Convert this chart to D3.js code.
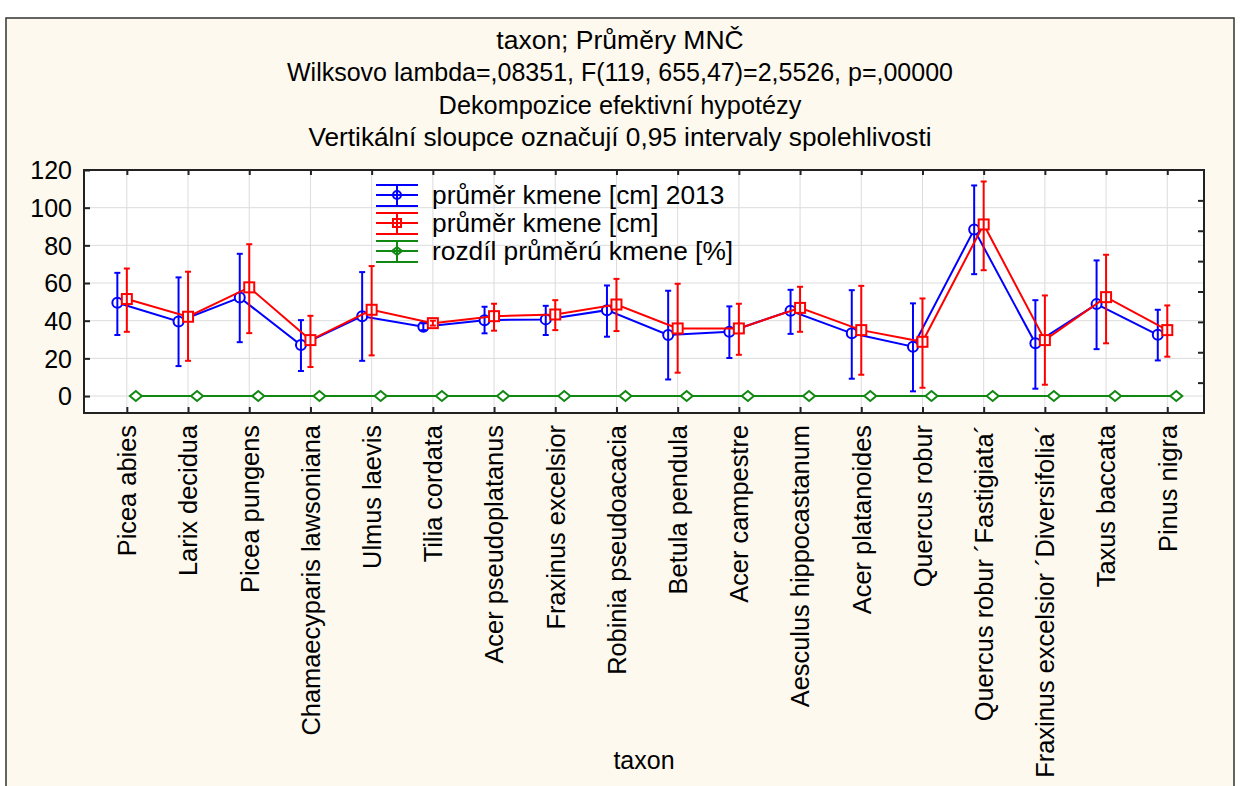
<!DOCTYPE html>
<html lang="cs">
<head>
<meta charset="UTF-8">
<title>taxon; Průměry MNČ</title>
<script src="https://cdnjs.cloudflare.com/ajax/libs/d3/7.8.5/d3.min.js"></script>
<style>
    html, body {
        margin: 0;
        padding: 0;
        background: #ffffff;
    }
    svg text {
        font-family: "Liberation Sans", Arial, sans-serif;
        fill: #000;
    }
</style>
</head>
<body>
<div id="chart"></div>
<script>
    const taxa = [
        "Picea abies", "Larix decidua", "Picea pungens", "Chamaecyparis lawsoniana",
        "Ulmus laevis", "Tilia cordata", "Acer pseudoplatanus", "Fraxinus excelsior",
        "Robinia pseudoacacia", "Betula pendula", "Acer campestre", "Aesculus hippocastanum",
        "Acer platanoides", "Quercus robur", "Quercus robur \u00b4Fastigiata\u00b4",
        "Fraxinus excelsior \u00b4Diversifolia\u00b4", "Taxus baccata", "Pinus nigra"
    ];

    // průměr kmene [cm] 2013
    const mean2013 = [49.5, 39.6, 52.3, 27.1, 42.4, 36.8, 40.3, 40.7, 45.6, 32.4, 34.1, 45.3, 33.3, 26.2, 88.4, 28.0, 48.8, 32.5];
    const low2013  = [32.4, 15.9, 28.6, 13.3, 18.7, 35.0, 33.3, 32.4, 31.5,  8.8, 20.2, 33.0,  9.2,  2.5, 64.7,  3.9, 24.9, 18.9];
    const high2013 = [65.4, 63.0, 75.5, 40.3, 65.8, 38.6, 47.4, 47.9, 58.7, 55.9, 47.6, 56.4, 56.2, 49.2, 111.8, 50.9, 72.0, 45.8];

    // průměr kmene [cm]
    const meanNow = [51.5, 42.1, 57.7, 29.7, 45.8, 38.7, 42.4, 43.3, 48.6, 35.9, 35.9, 46.8, 35.0, 28.8, 91.1, 29.7, 52.5, 35.0];
    const lowNow  = [34.1, 18.7, 33.4, 15.4, 21.6, 37.4, 34.7, 35.0, 34.5, 12.4, 21.9, 34.1, 11.3,  4.4, 66.8,  6.0, 28.0, 20.9];
    const highNow = [67.7, 66.0, 80.6, 42.6, 69.0, 40.0, 49.0, 50.9, 62.2, 59.6, 49.0, 58.0, 58.5, 51.8, 113.9, 53.4, 75.0, 48.1];

    // rozdíl průměrů kmene [%]
    const meanDiff = [0, 0, 0, 0, 0, 0, 0, 0, 0, 0, 0, 0, 0, 0, 0, 0, 0, 0];

    const yTicks = [0, 20, 40, 60, 80, 100, 120];
    const y2Ticks = [1, 2, 3, 4, 5, 6, 7];

    const titleLines = [
        "taxon; Průměry MNČ",
        "Wilksovo lambda=,08351, F(119, 655,47)=2,5526, p=,00000",
        "Dekompozice efektivní hypotézy",
        "Vertikální sloupce označují 0,95 intervaly spolehlivosti"
    ];
    const titleSizes = [26.5, 25, 25.3, 26.2];

    const width = 1240, height = 786;
    const plot = { left: 84, right: 1204, top: 170, bottom: 413 };
    const fontSize = 26.3;
    const labelSize = 25.4;

    const svg = d3.select("#chart").append("svg")
        .attr("width", width)
        .attr("height", height);

    // outer frame
    svg.append("rect")
        .attr("x", 6).attr("y", 18)
        .attr("width", 1228).attr("height", 800)
        .attr("fill", "#fdf9ee")
        .attr("stroke", "#333")
        .attr("stroke-width", 1.5);

    svg.append("g").selectAll("text")
        .data(titleLines)
        .join("text")
        .attr("x", 620)
        .attr("y", (d, i) => 40 + i * 32.3)
        .attr("text-anchor", "middle")
        .attr("dominant-baseline", "central")
        .style("font-size", (d, i) => titleSizes[i] + "px")
        .text(d => d);

    const x = d3.scaleLinear().domain([-0.7, 17.6]).range([plot.left, plot.right]);
    const y = d3.scaleLinear().domain([-9, 120]).range([plot.bottom, plot.top]);
    const y2 = d3.scaleLinear().domain([0, 8]).range([plot.bottom, plot.top]);

    svg.append("rect")
        .attr("x", plot.left).attr("y", plot.top)
        .attr("width", plot.right - plot.left)
        .attr("height", plot.bottom - plot.top)
        .attr("fill", "#fff");

    // grid
    const grid = svg.append("g").attr("stroke", "#dcdcdc").attr("stroke-width", 1);
    grid.selectAll("line.v")
        .data(d3.range(taxa.length))
        .join("line")
        .attr("class", "v")
        .attr("x1", d => x(d)).attr("x2", d => x(d))
        .attr("y1", plot.top).attr("y2", plot.bottom);
    grid.selectAll("line.h")
        .data(yTicks.slice(0, -1))
        .join("line")
        .attr("class", "h")
        .attr("x1", plot.left).attr("x2", plot.right)
        .attr("y1", d => y(d)).attr("y2", d => y(d));

    // axes
    const leftAxis = svg.append("g")
        .attr("transform", `translate(${plot.left},0)`)
        .call(d3.axisLeft(y).tickValues(yTicks).tickSize(-6).tickPadding(12));
    leftAxis.selectAll("text").style("font-size", "25px").attr("dy", "0.35em");

    const bottomAxis = svg.append("g")
        .attr("transform", `translate(0,${plot.bottom})`)
        .call(d3.axisBottom(x).tickValues(d3.range(taxa.length)).tickSize(-6).tickFormat(i => taxa[i]));
    bottomAxis.selectAll("text")
        .style("font-size", labelSize + "px")
        .attr("transform", "rotate(-90)")
        .attr("text-anchor", "end")
        .attr("x", -12)
        .attr("y", 0)
        .attr("dy", "0.35em");

    svg.append("g")
        .attr("transform", `translate(0,${plot.top})`)
        .call(d3.axisTop(x).tickValues(d3.range(taxa.length)).tickSize(-5).tickFormat(""));

    svg.append("g")
        .attr("transform", `translate(${plot.right},0)`)
        .call(d3.axisRight(y2).tickValues(y2Ticks).tickSize(-6).tickFormat(""));

    svg.selectAll(".domain").remove();
    svg.selectAll(".tick line").attr("stroke", "#222").attr("stroke-width", 2);

    svg.append("rect")
        .attr("x", plot.left).attr("y", plot.top)
        .attr("width", plot.right - plot.left)
        .attr("height", plot.bottom - plot.top)
        .attr("fill", "none")
        .attr("stroke", "#222")
        .attr("stroke-width", 2);

    svg.append("text")
        .attr("x", (plot.left + plot.right) / 2)
        .attr("y", 760)
        .attr("text-anchor", "middle")
        .attr("dominant-baseline", "central")
        .style("font-size", "25px")
        .text("taxon");

    // series
    const series = [
        { name: "průměr kmene [cm] 2013", color: "#0000ff", mean: mean2013, low: low2013, high: high2013, dx: -9.5, shape: "circle" },
        { name: "průměr kmene [cm]", color: "#ff0000", mean: meanNow, low: lowNow, high: highNow, dx: 0, shape: "square" },
        { name: "rozdíl průměrú kmene [%]", color: "#118811", mean: meanDiff, low: meanDiff, high: meanDiff, dx: 9, shape: "diamond" }
    ];

    function marker(g, shape, color) {
        if (shape === "circle") {
            g.append("circle").attr("r", 5);
        } else if (shape === "square") {
            g.append("rect").attr("x", -5).attr("y", -5).attr("width", 10).attr("height", 10);
        } else {
            g.append("path").attr("d", "M-6,0L0,-5L6,0L0,5Z");
        }
        g.selectAll("*").attr("fill", "#fff").attr("stroke", color).attr("stroke-width", 2);
    }

    const line = d3.line();
    series.forEach(s => {
        const g = svg.append("g");
        const pts = s.mean.map((v, i) => [x(i) + s.dx, y(v)]);
        g.append("path")
            .attr("d", line(pts))
            .attr("fill", "none")
            .attr("stroke", s.color)
            .attr("stroke-width", 2);

        pts.forEach((p, i) => marker(g.append("g").attr("transform", `translate(${p[0]},${p[1]})`), s.shape, s.color));

        const bars = g.append("g").attr("stroke", s.color).attr("stroke-width", 2);
        s.mean.forEach((v, i) => {
            if (s.high[i] === s.low[i]) return;
            const cx = x(i) + s.dx;
            bars.append("line").attr("x1", cx).attr("x2", cx).attr("y1", y(s.low[i])).attr("y2", y(s.high[i]));
            bars.append("line").attr("x1", cx - 3).attr("x2", cx + 3).attr("y1", y(s.low[i])).attr("y2", y(s.low[i]));
            bars.append("line").attr("x1", cx - 3).attr("x2", cx + 3).attr("y1", y(s.high[i])).attr("y2", y(s.high[i]));
        });
    });

    // legend
    const legend = svg.append("g").attr("transform", "translate(376,195)");
    series.forEach((s, i) => {
        const row = legend.append("g").attr("transform", `translate(0,${i * 28})`);
        const ls = row.append("g").attr("stroke", s.color).attr("stroke-width", 2);
        [-10, 0, 11].forEach(dy => ls.append("line").attr("x1", 0).attr("x2", 42).attr("y1", dy).attr("y2", dy));
        ls.append("line").attr("x1", 21).attr("x2", 21).attr("y1", -10).attr("y2", 11);
        marker(row.append("g").attr("transform", "translate(21,0)"), s.shape, s.color);
        row.selectAll("circle").attr("r", 4);
        row.selectAll("rect").attr("x", -4).attr("y", -4).attr("width", 8).attr("height", 8);
        row.selectAll("path").attr("d", "M-5,0L0,-4L5,0L0,4Z");
        ls.raise();
        row.append("text")
            .attr("x", 56)
            .attr("y", 0)
            .attr("dominant-baseline", "central")
            .style("font-size", fontSize + "px")
            .text(s.name);
    });
</script>
</body>
</html>
